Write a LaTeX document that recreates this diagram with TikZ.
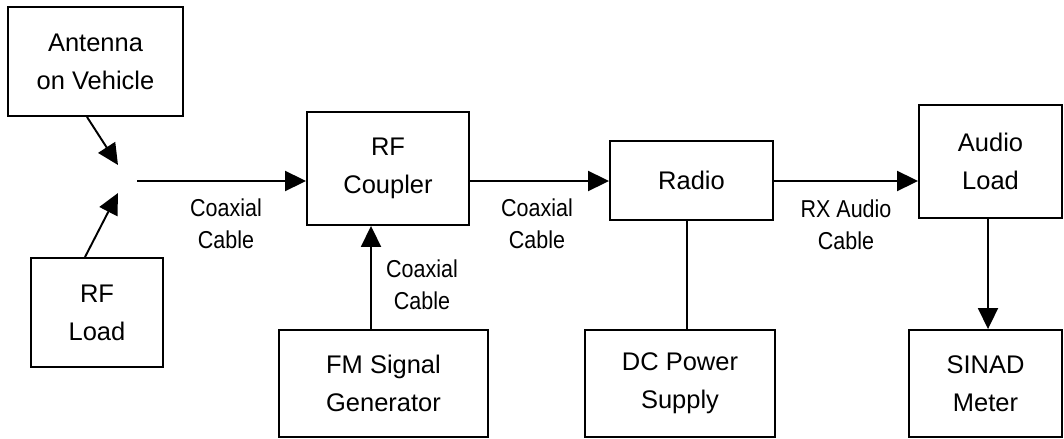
\documentclass[tikz,border=0pt]{standalone}
\usepackage{fontspec}
\setmainfont{Liberation Sans}
\newfontfamily\narrowfont[FakeStretch=0.88]{Liberation Sans}
\usetikzlibrary{arrows.meta}

\begin{document}
\begin{tikzpicture}[x=0.02cm, y=-0.02cm,
  blk/.style={draw, line width=1.1pt, align=center, inner sep=0pt,
    font=\fontsize{14.5}{21.6}\selectfont},
  lbl/.style={align=center, inner sep=0pt,
    font=\narrowfont\fontsize{13.9}{18.2}\selectfont},
  arr/.style={line width=1.1pt, -{Triangle[length=0.42cm, width=0.40cm]}},
  wire/.style={line width=1.1pt}]
  \useasboundingbox (0,0) rectangle (1064,439);

  % blocks
  \node[blk, minimum width=3.5cm,  minimum height=2.18cm] (ant)     at (95.5,61.5)  {Antenna\\on Vehicle};
  \node[blk, minimum width=2.64cm, minimum height=2.18cm] (rfload)  at (97,312.5)   {RF\\Load};
  \node[blk, minimum width=3.24cm, minimum height=2.26cm] (coupler) at (388,168.5)  {RF\\Coupler};
  \node[blk, minimum width=3.26cm, minimum height=1.58cm] (radio)   at (691.5,180.5) {Radio};
  \node[blk, minimum width=2.86cm, minimum height=2.26cm] (audio)   at (990.5,161.5) {Audio\\Load};
  \node[blk, minimum width=4.18cm, minimum height=2.14cm] (fm)      at (383.5,383.5) {FM Signal\\Generator};
  \node[blk, minimum width=3.8cm,  minimum height=2.14cm] (dc)      at (680,383.5)   {DC Power\\Supply};
  \node[blk, minimum width=3.06cm, minimum height=2.14cm] (sinad)   at (985.5,383.5) {SINAD\\Meter};

  % junction in front of the coupler
  \coordinate (jtop) at (118,165);
  \coordinate (jbot) at (118,193);
  \coordinate (jout) at (137,181);

  % connectors
  \draw[arr] ([xshift=-0.17cm]ant.south) -- (jtop);
  \draw[arr] ([xshift=-0.24cm]rfload.north) -- (jbot);
  \draw[arr] (jout) -- (coupler.west |- jout);
  \draw[arr] (coupler.east |- jout) -- (radio.west |- jout);
  \draw[arr] (radio.east |- jout) -- (audio.west |- jout);
  \draw[arr] ([xshift=-0.25cm]fm.north) -- ([xshift=-0.25cm]fm.north |- coupler.south);
  \draw[wire] ([xshift=-0.09cm]radio.south) -- ([xshift=-0.09cm]radio.south |- dc.north);
  \draw[arr] ([xshift=-0.05cm]audio.south) -- ([xshift=-0.05cm]audio.south |- sinad.north);

  % cable labels
  \node[lbl] (cab1) at (226,224) {Coaxial\\Cable};
  \node[lbl] (cab2) at (537,224) {Coaxial\\Cable};
  \node[lbl] (cab3) at (422,285) {Coaxial\\Cable};
  \node[lbl] (cab4) at (846,225) {RX Audio\\Cable};
\end{tikzpicture}
\end{document}
